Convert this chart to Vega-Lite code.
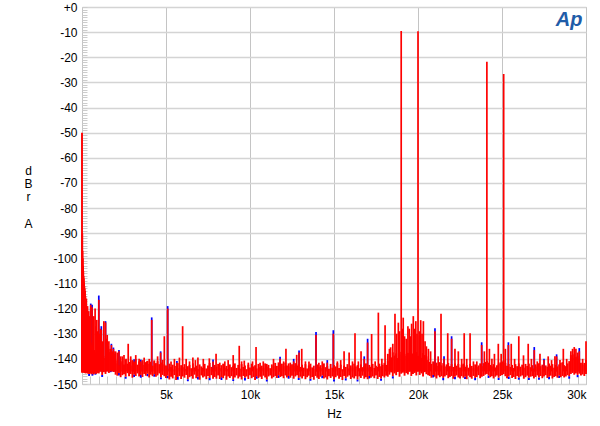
{
"$schema": "https://vega.github.io/schema/vega-lite/v6.json",
"width": 504, "height": 377,
"autosize": {"type": "none"},
"padding": {"left": 82, "top": 7, "right": 14, "bottom": 42},
"background": "white",
"config": {"view": {"stroke": "#b4b4b4", "strokeWidth": 1}, "font": "Liberation Sans"},
"datasets": {
"floor": [
{"f":0,"lo":-145.5,"hi":-50},{"f":15,"lo":-145,"hi":-90},{"f":30,"lo":-144.5,"hi":-97},{"f":45,"lo":-145.2,"hi":-100},{"f":60,"lo":-144.8,"hi":-103},{"f":75,"lo":-145.5,"hi":-105},{"f":90,"lo":-144.6,"hi":-107},{"f":105,"lo":-145.3,"hi":-108},{"f":120,"lo":-144.9,"hi":-109.5},{"f":140,"lo":-145.6,"hi":-111},{"f":160,"lo":-144.7,"hi":-112},{"f":180,"lo":-145.4,"hi":-113},{"f":200,"lo":-145,"hi":-115},{"f":220,"lo":-145.8,"hi":-117},{"f":250,"lo":-144.9,"hi":-120},{"f":280,"lo":-145.6,"hi":-124},{"f":320,"lo":-145.1,"hi":-127},{"f":350,"lo":-145.9,"hi":-129},{"f":380,"lo":-145.2,"hi":-130},{"f":420,"lo":-146,"hi":-131,"blo":-146.8},{"f":450,"lo":-145.3,"hi":-132},{"f":480,"lo":-145.7,"hi":-133},{"f":520,"lo":-145,"hi":-133.5},{"f":550,"lo":-146.1,"hi":-134.5},{"f":580,"lo":-145.4,"hi":-135},{"f":620,"lo":-145.8,"hi":-135.5,"blo":-146.7},{"f":650,"lo":-145.2,"hi":-136},{"f":680,"lo":-146.2,"hi":-137},{"f":720,"lo":-145.5,"hi":-136.5},{"f":750,"lo":-145.9,"hi":-137.5},{"f":800,"lo":-145.3,"hi":-138,"blo":-146.3},{"f":850,"lo":-146,"hi":-138.5},{"f":900,"lo":-145.6,"hi":-138.5},{"f":950,"lo":-145.1,"hi":-139.5},
{"f":1000,"lo":-145.8,"hi":-139.1},{"f":1100,"lo":-144.9,"hi":-140.4},{"f":1200,"lo":-146.4,"hi":-138.4,"blo":-147.2},{"f":1300,"lo":-145.3,"hi":-139.7},{"f":1400,"lo":-146,"hi":-138.8},
{"f":1500,"lo":-143.7,"hi":-138.7},{"f":1600,"lo":-145.6,"hi":-137.3},{"f":1700,"lo":-144.4,"hi":-136.2,"blo":-145.3},{"f":1800,"lo":-144,"hi":-138.1},{"f":1900,"lo":-145.2,"hi":-137},
{"f":2000,"lo":-146.3,"hi":-141.8},{"f":2100,"lo":-146.7,"hi":-140.6},{"f":2200,"lo":-145.6,"hi":-142.5,"blo":-146.6},{"f":2300,"lo":-147.3,"hi":-141.4},{"f":2400,"lo":-146.5,"hi":-140.9},{"f":2500,"lo":-146.1,"hi":-142.2},{"f":2600,"lo":-147.1,"hi":-140.3,"blo":-147.9},{"f":2700,"lo":-145.7,"hi":-141.9},{"f":2800,"lo":-146.9,"hi":-141.2},{"f":2900,"lo":-146,"hi":-142.6},{"f":3000,"lo":-147.5,"hi":-140.7},{"f":3100,"lo":-146.2,"hi":-141.5,"blo":-147.2},{"f":3200,"lo":-146.8,"hi":-140.1},{"f":3300,"lo":-145.8,"hi":-142.3},{"f":3400,"lo":-147,"hi":-141},{"f":3500,"lo":-146.4,"hi":-141.8,"blo":-147.5},{"f":3600,"lo":-147.2,"hi":-140.5},{"f":3700,"lo":-146,"hi":-142.4},{"f":3800,"lo":-146.7,"hi":-141.3},{"f":3900,"lo":-145.9,"hi":-140.8,"blo":-146.9},{"f":4000,"lo":-147.4,"hi":-142},{"f":4100,"lo":-146.3,"hi":-141.1},{"f":4200,"lo":-146.9,"hi":-142.7},{"f":4300,"lo":-146.1,"hi":-140.6,"blo":-147.1},{"f":4400,"lo":-147.1,"hi":-141.7},{"f":4500,"lo":-146.6,"hi":-140.9},{"f":4600,"lo":-145.8,"hi":-142.1},{"f":4700,"lo":-147.3,"hi":-141.4,"blo":-148.1},{"f":4800,"lo":-146.4,"hi":-140.4},{"f":4900,"lo":-146.9,"hi":-142.2},
{"f":5000,"lo":-147.6,"hi":-142.6},{"f":5100,"lo":-146.7,"hi":-143.9,"blo":-147.7},{"f":5200,"lo":-148.2,"hi":-141.9},{"f":5300,"lo":-147.1,"hi":-143.2},{"f":5400,"lo":-147.8,"hi":-142.3},{"f":5500,"lo":-146.5,"hi":-144.2},{"f":5600,"lo":-148.4,"hi":-142.8},{"f":5700,"lo":-147.2,"hi":-141.7,"blo":-148.3},{"f":5800,"lo":-146.8,"hi":-143.6},{"f":5900,"lo":-148,"hi":-142.5},{"f":6000,"lo":-147,"hi":-143.3},{"f":6100,"lo":-147.5,"hi":-142.1},{"f":6200,"lo":-146.4,"hi":-144},{"f":6300,"lo":-148.1,"hi":-142.9,"blo":-148.9},{"f":6400,"lo":-147.3,"hi":-142.4},{"f":6500,"lo":-146.9,"hi":-143.7},{"f":6600,"lo":-147.9,"hi":-141.8},{"f":6700,"lo":-146.3,"hi":-143.4},{"f":6800,"lo":-147.7,"hi":-142.7},{"f":6900,"lo":-147.1,"hi":-144.1,"blo":-148.2},{"f":7000,"lo":-148.3,"hi":-142.2},{"f":7100,"lo":-146.6,"hi":-143},{"f":7200,"lo":-147.4,"hi":-143.5},{"f":7300,"lo":-147,"hi":-142},{"f":7400,"lo":-148.1,"hi":-143.8},{"f":7500,"lo":-146.8,"hi":-142.6},{"f":7600,"lo":-147.6,"hi":-141.6,"blo":-148.5},{"f":7700,"lo":-146.5,"hi":-143.2},{"f":7800,"lo":-147.9,"hi":-143.9},{"f":7900,"lo":-147.2,"hi":-142.4},
{"f":8000,"lo":-147.9,"hi":-143.1},{"f":8100,"lo":-146.6,"hi":-142},{"f":8200,"lo":-148,"hi":-143.7},{"f":8300,"lo":-147.3,"hi":-142.5,"blo":-148.4},{"f":8400,"lo":-147.7,"hi":-141.9},{"f":8500,"lo":-146.7,"hi":-143.5},{"f":8600,"lo":-148.3,"hi":-142.8},{"f":8700,"lo":-147,"hi":-144},{"f":8800,"lo":-147.6,"hi":-142.2},{"f":8900,"lo":-146.9,"hi":-143.3},{"f":9000,"lo":-148.1,"hi":-142.7,"blo":-148.8},{"f":9100,"lo":-147.4,"hi":-141.8},{"f":9200,"lo":-146.6,"hi":-143.6},{"f":9300,"lo":-147.8,"hi":-142.4},{"f":9400,"lo":-147.1,"hi":-143.9},{"f":9500,"lo":-148.2,"hi":-142.1},{"f":9600,"lo":-146.8,"hi":-143.2},{"f":9700,"lo":-147.5,"hi":-142.6,"blo":-148.6},{"f":9800,"lo":-147,"hi":-144.1},{"f":9900,"lo":-148,"hi":-142.3},
{"f":10000,"lo":-146.5,"hi":-143.4},{"f":10100,"lo":-147.7,"hi":-141.9},{"f":10200,"lo":-147.2,"hi":-143},{"f":10300,"lo":-148.4,"hi":-142.5},{"f":10400,"lo":-146.9,"hi":-143.8,"blo":-147.9},{"f":10500,"lo":-147.6,"hi":-142},{"f":10600,"lo":-147.1,"hi":-143.3},{"f":10700,"lo":-148,"hi":-142.7},{"f":10800,"lo":-146.7,"hi":-143.6},{"f":10900,"lo":-147.4,"hi":-141.8},{"f":11000,"lo":-148.2,"hi":-143.1,"blo":-149},{"f":11100,"lo":-147,"hi":-142.4},{"f":11200,"lo":-146.6,"hi":-143.7},{"f":11300,"lo":-147.8,"hi":-142.2},{"f":11400,"lo":-147.3,"hi":-142.9},{"f":11500,"lo":-146.8,"hi":-141.6},{"f":11600,"lo":-147.6,"hi":-142.8},{"f":11700,"lo":-146.5,"hi":-141.4,"blo":-147.6},{"f":11800,"lo":-147.2,"hi":-142.5},{"f":11900,"lo":-146.9,"hi":-141.9},
{"f":12000,"lo":-147.7,"hi":-142.9},{"f":12100,"lo":-146.6,"hi":-141.5},{"f":12200,"lo":-147.4,"hi":-142.6},{"f":12300,"lo":-146.8,"hi":-141.8,"blo":-147.9},{"f":12400,"lo":-147.5,"hi":-143},{"f":12500,"lo":-146.7,"hi":-142.1},{"f":12600,"lo":-147.9,"hi":-142.8},{"f":12700,"lo":-147,"hi":-141.7},{"f":12800,"lo":-146.5,"hi":-142.6},{"f":12900,"lo":-147.6,"hi":-142,"blo":-148.4},{"f":13000,"lo":-147.1,"hi":-143.2},{"f":13100,"lo":-147.8,"hi":-142.3},{"f":13200,"lo":-146.9,"hi":-143.5},{"f":13300,"lo":-148.1,"hi":-142.1},{"f":13400,"lo":-147.3,"hi":-143.8},{"f":13500,"lo":-146.7,"hi":-142.6},{"f":13600,"lo":-147.9,"hi":-141.9,"blo":-148.7},{"f":13700,"lo":-147.2,"hi":-143.4},{"f":13800,"lo":-148.3,"hi":-142.7},{"f":13900,"lo":-146.8,"hi":-144},
{"f":14000,"lo":-147.5,"hi":-142.2},{"f":14100,"lo":-148,"hi":-143.1},{"f":14200,"lo":-147.1,"hi":-142.5},{"f":14300,"lo":-146.6,"hi":-143.7,"blo":-147.7},{"f":14400,"lo":-147.8,"hi":-141.8},{"f":14500,"lo":-147.4,"hi":-143.3},{"f":14600,"lo":-148.2,"hi":-142.9},{"f":14700,"lo":-146.9,"hi":-143.9},{"f":14800,"lo":-147.6,"hi":-142},{"f":14900,"lo":-147,"hi":-143.5},{"f":15000,"lo":-148.1,"hi":-142.4,"blo":-149},{"f":15100,"lo":-147.3,"hi":-143},{"f":15200,"lo":-146.7,"hi":-141.7},{"f":15300,"lo":-147.9,"hi":-143.6},{"f":15400,"lo":-147.2,"hi":-142.3},{"f":15500,"lo":-148.4,"hi":-144.1},{"f":15600,"lo":-146.8,"hi":-142.7},{"f":15700,"lo":-147.7,"hi":-143.2,"blo":-148.6},{"f":15800,"lo":-147.1,"hi":-142.1},{"f":15900,"lo":-146.6,"hi":-143.8},
{"f":16000,"lo":-148,"hi":-142.6},{"f":16100,"lo":-147.4,"hi":-143.4},{"f":16200,"lo":-147.8,"hi":-141.9},{"f":16300,"lo":-146.9,"hi":-143},{"f":16400,"lo":-148.2,"hi":-142.5,"blo":-149},{"f":16500,"lo":-147,"hi":-143.7},{"f":16600,"lo":-147.6,"hi":-142.2},{"f":16700,"lo":-146.7,"hi":-143.3},{"f":16800,"lo":-147.9,"hi":-142.8},{"f":16900,"lo":-147.3,"hi":-141.8},{"f":17000,"lo":-148.1,"hi":-143.5},{"f":17100,"lo":-146.8,"hi":-142.4,"blo":-147.8},{"f":17200,"lo":-147.5,"hi":-143.1},{"f":17300,"lo":-147,"hi":-142},{"f":17400,"lo":-147.7,"hi":-143.6},{"f":17500,"lo":-146.6,"hi":-142.7},{"f":17600,"lo":-148,"hi":-143.2},{"f":17700,"lo":-147.2,"hi":-141.9},{"f":17800,"lo":-147.8,"hi":-142.9,"blo":-148.7},{"f":17900,"lo":-146.9,"hi":-142.3},
{"f":18000,"lo":-147.4,"hi":-141.6},{"f":18100,"lo":-146.7,"hi":-142.4},{"f":18200,"lo":-147.1,"hi":-140.8},
{"f":18300,"lo":-146.3,"hi":-138.1},{"f":18400,"lo":-145.4,"hi":-139.4},{"f":18500,"lo":-146.9,"hi":-137.4,"blo":-147.8},{"f":18600,"lo":-145.8,"hi":-138.7},{"f":18700,"lo":-146.5,"hi":-137.8},{"f":18800,"lo":-145.2,"hi":-139.7},{"f":18900,"lo":-147.1,"hi":-138.3},{"f":19000,"lo":-145.9,"hi":-137.2},{"f":19100,"lo":-145.5,"hi":-139.1},{"f":19200,"lo":-146.7,"hi":-138},{"f":19300,"lo":-145.7,"hi":-138.8},{"f":19400,"lo":-146.2,"hi":-137.6},{"f":19500,"lo":-145.1,"hi":-139.5},{"f":19600,"lo":-146.8,"hi":-138.4},{"f":19700,"lo":-146,"hi":-137.9},{"f":19800,"lo":-145.6,"hi":-139.2},{"f":19900,"lo":-146.6,"hi":-137.3},{"f":20000,"lo":-145,"hi":-138.9},{"f":20100,"lo":-146.4,"hi":-138.2},{"f":20200,"lo":-145.8,"hi":-139.6},{"f":20300,"lo":-147,"hi":-137.7},{"f":20400,"lo":-145.3,"hi":-138.5},{"f":20500,"lo":-146.1,"hi":-139},{"f":20600,"lo":-146.5,"hi":-140.5},
{"f":20700,"lo":-146.8,"hi":-141.2},{"f":20800,"lo":-147.5,"hi":-142},{"f":20900,"lo":-146.4,"hi":-141,"blo":-147.4},{"f":21000,"lo":-147.1,"hi":-142.3},{"f":21100,"lo":-147.8,"hi":-141.5},{"f":21200,"lo":-146.6,"hi":-142.8},{"f":21300,"lo":-147.3,"hi":-141.3},{"f":21400,"lo":-146.9,"hi":-142.6},{"f":21500,"lo":-147.6,"hi":-141.7,"blo":-148.5},{"f":21600,"lo":-147,"hi":-143},{"f":21700,"lo":-146.5,"hi":-142.2},{"f":21800,"lo":-147.7,"hi":-141.6},{"f":21900,"lo":-147.2,"hi":-142.9},
{"f":22000,"lo":-146.8,"hi":-142.1},{"f":22100,"lo":-147.9,"hi":-143.2},{"f":22200,"lo":-147.1,"hi":-141.8,"blo":-148.1},{"f":22300,"lo":-146.6,"hi":-142.7},{"f":22400,"lo":-147.4,"hi":-142},{"f":22500,"lo":-147.8,"hi":-143.4},{"f":22600,"lo":-146.9,"hi":-142.3},{"f":22700,"lo":-147.5,"hi":-141.9},{"f":22800,"lo":-147,"hi":-143.1,"blo":-148},{"f":22900,"lo":-148.1,"hi":-142.5},{"f":23000,"lo":-146.7,"hi":-143.5},{"f":23100,"lo":-147.3,"hi":-142},{"f":23200,"lo":-147.9,"hi":-142.8},{"f":23300,"lo":-146.8,"hi":-143.7},{"f":23400,"lo":-147.6,"hi":-142.2,"blo":-148.5},{"f":23500,"lo":-147.2,"hi":-143.3},{"f":23600,"lo":-146.5,"hi":-142.6},{"f":23700,"lo":-147.7,"hi":-141.8},{"f":23800,"lo":-147.1,"hi":-142.9},{"f":23900,"lo":-146.8,"hi":-141.7},
{"f":24000,"lo":-146.3,"hi":-141.2},{"f":24100,"lo":-146,"hi":-140.8},{"f":24200,"lo":-146.6,"hi":-141.5,"blo":-147.6},{"f":24300,"lo":-147.3,"hi":-142.4},{"f":24400,"lo":-146.9,"hi":-143},{"f":24500,"lo":-147.8,"hi":-142.1},{"f":24600,"lo":-147.1,"hi":-143.4},{"f":24700,"lo":-146.6,"hi":-142.5},{"f":24800,"lo":-147.5,"hi":-141.9,"blo":-148.4},{"f":24900,"lo":-146.8,"hi":-141.4},{"f":25000,"lo":-146.4,"hi":-141},{"f":25100,"lo":-146.1,"hi":-140.6},{"f":25200,"lo":-146.9,"hi":-141.6},{"f":25300,"lo":-147.7,"hi":-142.7},{"f":25400,"lo":-147,"hi":-142,"blo":-148},{"f":25500,"lo":-146.5,"hi":-143.2},{"f":25600,"lo":-147.6,"hi":-142.4},{"f":25700,"lo":-147.2,"hi":-143.6},{"f":25800,"lo":-148,"hi":-142.1},{"f":25900,"lo":-146.8,"hi":-142.9},
{"f":26000,"lo":-147.4,"hi":-141.8,"blo":-148.3},{"f":26100,"lo":-147,"hi":-143.1},{"f":26200,"lo":-146.6,"hi":-142.3},{"f":26300,"lo":-147.9,"hi":-143.5},{"f":26400,"lo":-147.3,"hi":-142},{"f":26500,"lo":-146.7,"hi":-142.8},{"f":26600,"lo":-147.5,"hi":-141.9,"blo":-148.4},{"f":26700,"lo":-147.1,"hi":-143.3},{"f":26800,"lo":-146.9,"hi":-142.5},{"f":26900,"lo":-147.8,"hi":-143.8},{"f":27000,"lo":-147.2,"hi":-142.2},{"f":27100,"lo":-146.6,"hi":-143},{"f":27200,"lo":-147.4,"hi":-141.7,"blo":-148.3},{"f":27300,"lo":-146.8,"hi":-142.9},{"f":27400,"lo":-147.7,"hi":-142.3},{"f":27500,"lo":-147,"hi":-143.4},{"f":27600,"lo":-146.5,"hi":-142.6},{"f":27700,"lo":-147.6,"hi":-143.1},{"f":27800,"lo":-147.1,"hi":-141.8,"blo":-148.1},{"f":27900,"lo":-146.7,"hi":-142.7},
{"f":28000,"lo":-147.8,"hi":-142.1},{"f":28100,"lo":-147.2,"hi":-143.5},{"f":28200,"lo":-146.9,"hi":-142.4},{"f":28300,"lo":-147.5,"hi":-143},{"f":28400,"lo":-146.6,"hi":-142.2,"blo":-147.6},{"f":28500,"lo":-147.3,"hi":-141.6},{"f":28600,"lo":-146.8,"hi":-141.3},{"f":28700,"lo":-147.4,"hi":-142.5},{"f":28800,"lo":-147,"hi":-142.9},{"f":28900,"lo":-146.5,"hi":-141.8},{"f":29000,"lo":-146.9,"hi":-140.9,"blo":-147.9},
{"f":29100,"lo":-146,"hi":-138.5},{"f":29200,"lo":-145.6,"hi":-139.6},{"f":29300,"lo":-146.3,"hi":-138.2},{"f":29400,"lo":-145.8,"hi":-139.3},{"f":29500,"lo":-146.4,"hi":-138.8,"blo":-147.3},{"f":29600,"lo":-145.9,"hi":-139.9},{"f":29700,"lo":-146.6,"hi":-141.5},{"f":29800,"lo":-146.2,"hi":-142.3},{"f":29900,"lo":-146.8,"hi":-141.6},{"f":30000,"lo":-146,"hi":-140.5}
],
"spikes": [
{"f":260,"r":-116},{"f":330,"r":-119},{"f":400,"r":-121},{"f":460,"r":-123},{"f":520,"r":-118.5,"b":-118},{"f":600,"r":-119.5,"b":-118.5},{"f":660,"r":-124},{"f":700,"r":-123},{"f":780,"r":-120},{"f":840,"r":-127},{"f":880,"r":-124.5},{"f":940,"r":-129},{"f":1000,"r":-116.5,"b":-114.8},{"f":1060,"r":-130},{"f":1100,"r":-128},{"f":1150,"r":-128.5,"b":-127},{"f":1220,"r":-133},{"f":1300,"r":-125},{"f":1400,"r":-125.5,"b":-125},{"f":1460,"r":-132},{"f":1500,"r":-130.5},{"f":1560,"r":-135},{"f":1600,"r":-133},{"f":1680,"r":-136},{"f":1750,"r":-134.5,"b":-134},{"f":1810,"r":-137},{"f":1870,"r":-136,"b":-135.5},{"f":1950,"r":-138},{"f":2000,"r":-137},{"f":2100,"r":-137.5},{"f":2200,"r":-137,"b":-136.5},{"f":2300,"r":-139},{"f":2400,"r":-139},{"f":2500,"r":-138.5},{"f":2620,"r":-140},{"f":2750,"r":-134},{"f":2900,"r":-139},{"f":3000,"r":-140.5},{"f":3100,"r":-141,"b":-140.2},{"f":3200,"r":-138.5},{"f":3400,"r":-140},{"f":3500,"r":-141,"b":-140.3},{"f":3700,"r":-139.5},{"f":3850,"r":-141},{"f":4000,"r":-140},{"f":4150,"r":-124.5,"b":-123.5},{"f":4300,"r":-141},{"f":4500,"r":-139},{"f":4680,"r":-137.5,"b":-137},{"f":4900,"r":-131},{"f":5100,"r":-120,"b":-119},{"f":5300,"r":-141},{"f":5500,"r":-140},{"f":5650,"r":-141.5,"b":-140.8},{"f":5800,"r":-139.5},{"f":5990,"r":-127},{"f":6200,"r":-140},{"f":6400,"r":-141},{"f":6600,"r":-139.5},{"f":6750,"r":-140.5},{"f":6900,"r":-139.5},{"f":7220,"r":-140},{"f":7580,"r":-139.8},{"f":7800,"r":-141,"b":-140.3},{"f":7980,"r":-138},{"f":8200,"r":-141.5},{"f":8500,"r":-141},{"f":8700,"r":-140.5},{"f":9000,"r":-138.5},{"f":9360,"r":-134.8},{"f":9500,"r":-141},{"f":9660,"r":-140.7},{"f":9900,"r":-141.5},{"f":10150,"r":-141},{"f":10360,"r":-135.3},{"f":10600,"r":-141.5},{"f":10790,"r":-141},{"f":11000,"r":-142},{"f":11400,"r":-140},{"f":11790,"r":-140,"b":-139.2},{"f":12000,"r":-141},{"f":12140,"r":-136},{"f":12400,"r":-141.5},{"f":12600,"r":-141,"b":-140},{"f":12780,"r":-138.4},{"f":12920,"r":-137.5,"b":-136.7},{"f":13080,"r":-136},{"f":13300,"r":-141},{"f":13510,"r":-141},{"f":13930,"r":-130.5,"b":-129.3},{"f":14100,"r":-141.5},{"f":14300,"r":-141},{"f":14600,"r":-141.5,"b":-140.5},{"f":14960,"r":-130,"b":-128.6},{"f":15200,"r":-141},{"f":15400,"r":-140.5},{"f":15600,"r":-137},{"f":15900,"r":-137.5},{"f":16100,"r":-141},{"f":16250,"r":-129.8},{"f":16450,"r":-141},{"f":16610,"r":-137},{"f":16800,"r":-140,"b":-139},{"f":17000,"r":-133.5,"b":-132},{"f":17240,"r":-130.1},{"f":17450,"r":-141},{"f":17640,"r":-121.6},{"f":17850,"r":-140},{"f":18040,"r":-126.6},{"f":18200,"r":-138},{"f":18300,"r":-136},{"f":18370,"r":-135.4},{"f":18500,"r":-134},{"f":18630,"r":-122},{"f":18730,"r":-130},{"f":18830,"r":-125.6},{"f":18900,"r":-129},{"f":19000,"r":-9.5},{"f":19060,"r":-128},{"f":19120,"r":-123.6},{"f":19200,"r":-131},{"f":19300,"r":-132},{"f":19400,"r":-127},{"f":19480,"r":-128},{"f":19550,"r":-131},{"f":19620,"r":-126},{"f":19720,"r":-123},{"f":19800,"r":-128},{"f":19870,"r":-125},{"f":19940,"r":-130},{"f":20000,"r":-9.6},{"f":20080,"r":-129},{"f":20160,"r":-124.6},{"f":20240,"r":-130},{"f":20320,"r":-125},{"f":20420,"r":-133},{"f":20500,"r":-135},{"f":20620,"r":-136},{"f":20750,"r":-137},{"f":21010,"r":-129,"b":-127.8},{"f":21200,"r":-139},{"f":21370,"r":-122},{"f":21550,"r":-140,"b":-139},{"f":21770,"r":-129.8},{"f":22000,"r":-132,"b":-131},{"f":22200,"r":-136},{"f":22400,"r":-137},{"f":22600,"r":-140},{"f":22750,"r":-129.8},{"f":22900,"r":-140},{"f":23100,"r":-129.8},{"f":23300,"r":-141},{"f":23500,"r":-141},{"f":23790,"r":-134.5,"b":-133.4},{"f":23950,"r":-137},{"f":24100,"r":-21.8},{"f":24250,"r":-136},{"f":24400,"r":-140},{"f":24550,"r":-138},{"f":24780,"r":-134},{"f":24950,"r":-138},{"f":25100,"r":-26.7},{"f":25200,"r":-136},{"f":25380,"r":-134.5,"b":-133.4},{"f":25550,"r":-134},{"f":25750,"r":-140},{"f":26000,"r":-131},{"f":26280,"r":-138.6},{"f":26560,"r":-134},{"f":26750,"r":-140},{"f":26920,"r":-136.5,"b":-135.3},{"f":27100,"r":-141},{"f":27260,"r":-138},{"f":27500,"r":-140.5,"b":-140},{"f":27750,"r":-139},{"f":27950,"r":-140.5},{"f":28150,"r":-139},{"f":28250,"r":-139,"b":-138.2},{"f":28450,"r":-140.5},{"f":28650,"r":-136},{"f":28850,"r":-140},{"f":29100,"r":-137},{"f":29200,"r":-136},{"f":29300,"r":-135.3},{"f":29400,"r":-136},{"f":29500,"r":-137.5},{"f":29600,"r":-137,"b":-135.7},{"f":29800,"r":-140},{"f":30000,"r":-133}
]
},
"layer": [
{"data": {"name": "floor"}, "mark": {"type": "rule", "color": "#0000ff", "strokeWidth": 1.9},
 "encoding": {
  "x": {"field": "f", "type": "quantitative",
   "scale": {"domain": [0, 30000], "nice": false, "zero": false},
   "axis": {
    "values": [0,500,1000,1500,2000,2500,3000,3500,4000,4500,5000,5500,6000,6500,7000,7500,8000,8500,9000,9500,10000,10500,11000,11500,12000,12500,13000,13500,14000,14500,15000,15500,16000,16500,17000,17500,18000,18500,19000,19500,20000,20500,21000,21500,22000,22500,23000,23500,24000,24500,25000,25500,26000,26500,27000,27500,28000,28500,29000,29500,30000],
    "tickCount": 500,
    "labelExpr": "datum.value > 0 && datum.value % 5000 == 0 ? (datum.value / 1000) + 'k' : ''",
    "labelFlush": true, "labelOverlap": false,
    "labelFontSize": 12, "labelColor": "#000000", "labelPadding": 13,
    "domain": false,
    "grid": true, "gridColor": "#c4c4c4", "gridWidth": 1,
    "gridOpacity": {"condition": {"test": "datum.value % 5000 == 0", "value": 1}, "value": 0},
    "ticks": true, "tickSize": -8, "tickColor": "#c8c8c8", "tickWidth": 1,
    "title": "Hz", "titleFontSize": 12, "titleFontWeight": "normal", "titleColor": "#000000",
    "titleY": 29, "titleBaseline": "middle"
   }
  },
  "y": {"field": "blo", "type": "quantitative",
   "scale": {"domain": [-150, 0], "nice": false, "zero": false},
   "axis": {
    "values": [-150,-149,-148,-147,-146,-145,-144,-143,-142,-141,-140,-139,-138,-137,-136,-135,-134,-133,-132,-131,-130,-129,-128,-127,-126,-125,-124,-123,-122,-121,-120,-119,-118,-117,-116,-115,-114,-113,-112,-111,-110,-109,-108,-107,-106,-105,-104,-103,-102,-101,-100,-99,-98,-97,-96,-95,-94,-93,-92,-91,-90,-89,-88,-87,-86,-85,-84,-83,-82,-81,-80,-79,-78,-77,-76,-75,-74,-73,-72,-71,-70,-69,-68,-67,-66,-65,-64,-63,-62,-61,-60,-59,-58,-57,-56,-55,-54,-53,-52,-51,-50,-49,-48,-47,-46,-45,-44,-43,-42,-41,-40,-39,-38,-37,-36,-35,-34,-33,-32,-31,-30,-29,-28,-27,-26,-25,-24,-23,-22,-21,-20,-19,-18,-17,-16,-15,-14,-13,-12,-11,-10,-9,-8,-7,-6,-5,-4,-3,-2,-1,0],
    "tickCount": 500,
    "labelExpr": "datum.value == 0 ? '+0' : (datum.value % 10 == 0 ? '' + datum.value : '')",
    "labelOverlap": false,
    "labelFontSize": 12, "labelColor": "#000000", "labelPadding": 10,
    "domain": false,
    "grid": true, "gridColor": "#d4d4d4", "gridWidth": 1.5,
    "gridOpacity": {"condition": {"test": "datum.value % 10 == 0", "value": 1}, "value": 0},
    "ticks": true, "tickSize": -5, "tickColor": "#cccccc", "tickWidth": 1,
    "title": ["d", "B", "r", "\u2800", "A"], "titleAngle": 0, "titleFontSize": 12, "titleFontWeight": "normal",
    "titleColor": "#000000", "titleX": -54, "titleY": 163, "titleAlign": "center", "titleBaseline": "middle", "titleLineHeight": 13.3
   }
  },
  "y2": {"field": "lo"}
 }
},
{"data": {"name": "spikes"}, "mark": {"type": "rule", "color": "#0000ff", "strokeWidth": 1.7},
 "encoding": {"x": {"field": "f", "type": "quantitative"}, "y": {"field": "b", "type": "quantitative"}, "y2": {"datum": -145}}
},
{"data": {"name": "floor"}, "mark": {"type": "rule", "color": "#ff0000", "strokeWidth": 1.9},
 "encoding": {"x": {"field": "f", "type": "quantitative"}, "y": {"field": "hi", "type": "quantitative"}, "y2": {"field": "lo"}}
},
{"data": {"name": "spikes"}, "mark": {"type": "rule", "color": "#ff0000", "strokeWidth": 1.7},
 "encoding": {"x": {"field": "f", "type": "quantitative"}, "y": {"field": "r", "type": "quantitative"}, "y2": {"datum": -145}}
},
{"data": {"values": [{"logo": "Ap"}]}, "mark": {"type": "text", "font": "Liberation Sans", "fontSize": 20, "fontStyle": "italic", "fontWeight": "bold", "color": "#1f5ca8", "align": "center", "baseline": "middle"},
 "encoding": {"x": {"datum": 29000, "type": "quantitative"}, "y": {"datum": -5.2, "type": "quantitative"}, "text": {"field": "logo", "type": "nominal"}}
}
]
}
